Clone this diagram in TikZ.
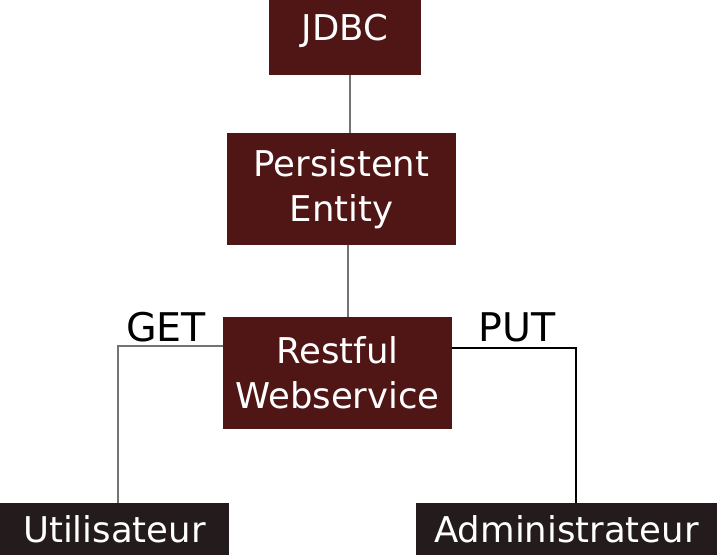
\documentclass[tikz,border=0pt]{standalone}
\usepackage{fontspec}
\setmainfont{DejaVu Sans}
\usepackage{xcolor}
\definecolor{boxred}{HTML}{501616}
\definecolor{boxdark}{HTML}{241C1C}
\usetikzlibrary{positioning}

\begin{document}
\begin{tikzpicture}[x=0.02cm, y=-0.02cm,
	comp/.style={rectangle, fill=boxred, text=white, align=center, inner sep=0pt,
	             minimum width=4.58cm, minimum height=2.24cm, font=\fontsize{20.2}{25.5}\selectfont},
	actor/.style={rectangle, fill=boxdark, text=white, align=center, inner sep=0pt,
	              minimum height=1.04cm, font=\fontsize{20.2}{25.5}\selectfont},
	link/.style={draw=black!55, line width=0.6pt},
	verb/.style={font=\fontsize{22.5}{26}\selectfont, inner sep=0pt}
	]
\useasboundingbox (0,0) rectangle (717,555);
\node[comp, minimum width=3.04cm, minimum height=1.76cm] (jdbc) at (345,31) {JDBC};
\node[comp] (pe) at (341.5,189) {Persistent\\Entity};
\node[comp] (rw) at (337.5,373) {Restful\\Webservice};
\node[actor, minimum width=4.58cm] (util) at (114.5,529) {Utilisateur};
\node[actor, minimum width=6.02cm] (admin) at (566.5,529) {Administrateur};

\draw[link] ([xshift=0.1cm]jdbc.south) -- ([xshift=0.1cm]jdbc.south |- pe.north);
\draw[link] ([xshift=0.13cm]pe.south) -- ([xshift=0.13cm]pe.south |- rw.north);

\node[verb] (get) at (166,327) {GET};
\node[verb] (put) at (517,327) {PUT};
\draw[link] ([yshift=0.54cm]rw.west) -| ([xshift=0.07cm]util.north);
\draw[link, draw=black] ([yshift=0.5cm]rw.east) -| ([xshift=0.19cm]admin.north);
\end{tikzpicture}
\end{document}
